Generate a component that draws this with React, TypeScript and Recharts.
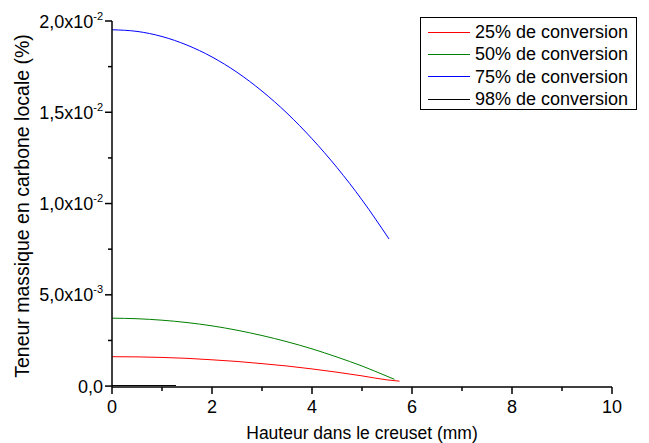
import React from "react";
import { Legend, Line, LineChart, XAxis, YAxis } from "recharts";

// hauteur (mm) / teneur (%) per series
const x25 = [0, 0.5, 1, 1.5, 2, 2.5, 3, 3.5, 4, 4.5, 5, 5.5, 5.75];
const y25 = [0.00161, 0.0016, 0.00157, 0.00152, 0.00144, 0.00135, 0.00123, 0.0011, 0.00094, 0.00076, 0.00056, 0.00034, 0.00027];

const x50 = [0, 0.5, 1, 1.5, 2, 2.5, 3, 3.5, 4, 4.5, 5, 5.5, 5.65];
const y50 = [0.00372, 0.00369, 0.00361, 0.00348, 0.0033, 0.00306, 0.00277, 0.00243, 0.00204, 0.00159, 0.0011, 0.00054, 0.00037];

const x75 = [0, 0.5, 1, 1.5, 2, 2.5, 3, 3.5, 4, 4.5, 5, 5.54];
const y75 = [0.01952, 0.01943, 0.01915, 0.01868, 0.01803, 0.01719, 0.01616, 0.01495, 0.01355, 0.01197, 0.0102, 0.00806];

const x98 = [0, 0.5, 1, 1.28];
const y98 = [0.00003, 0.00003, 0.00003, 0.00003];

const xTicks = [0, 1, 2, 3, 4, 5, 6, 7, 8, 9, 10];
const yTicks = [0, 0.0025, 0.005, 0.0075, 0.01, 0.0125, 0.015, 0.0175, 0.02];
const yTickMantissa = ["0,0", "", "5,0x10", "", "1,0x10", "", "1,5x10", "", "2,0x10"];
const yTickExponent = ["", "", "-3", "", "-2", "", "-2", "", "-2"];

const FONT = "'Liberation Sans', Arial, sans-serif";

const toPoints = (xs: number[], ys: number[]) => xs.map((x, i) => ({ x, y: ys[i] }));

const XTick = (props: any) => {
  const { x, y, payload } = props;
  const major = payload.value % 2 === 0;
  return (
    <g>
      <line x1={x} x2={x} y1={y} y2={y + (major ? 7 : 4)} stroke="#000" strokeWidth={1.5} />
      {major && (
        <text x={x} y={y + 26} textAnchor="middle" fontSize={18} fontFamily={FONT} fill="#000">
          {payload.value}
        </text>
      )}
    </g>
  );
};

const YTick = (props: any) => {
  const { x, y, index } = props;
  const label = yTickMantissa[index];
  const exp = yTickExponent[index];
  return (
    <g>
      <line x1={x} x2={x - (label ? 7 : 4)} y1={y} y2={y} stroke="#000" strokeWidth={1.5} />
      {label && (
        <text x={x - 9} y={y + 6.5} textAnchor="end" fontSize={18} fontFamily={FONT} fill="#000">
          {label}
          {exp && (
            <tspan dy={-8} fontSize={11}>
              {exp}
            </tspan>
          )}
        </text>
      )}
    </g>
  );
};

const LegendBox = (props: any) => (
  <div
    style={{
      boxSizing: "border-box",
      width: 217,
      height: 93,
      border: "1px solid #000",
      background: "#fff",
      paddingTop: 3,
      paddingLeft: 7,
      fontFamily: FONT,
      fontSize: 18,
      color: "#000",
      whiteSpace: "nowrap",
    }}
  >
    {(props.payload || []).map((p: any) => (
      <div key={p.value} style={{ display: "flex", alignItems: "center", height: 22.3 }}>
        <svg width={42} height={3}>
          <line x1={0} x2={42} y1={1.5} y2={1.5} stroke={p.color} strokeWidth={1} />
        </svg>
        <span style={{ marginLeft: 5, lineHeight: "22px" }}>{p.value}</span>
      </div>
    ))}
  </div>
);

export default function App() {
  return (
    <div style={{ position: "absolute", left: 0, top: 0, background: "#fff" }}>
      <LineChart width={649} height={443} margin={{ top: 21, right: 37, bottom: 0, left: 0 }}>
        <XAxis
          dataKey="x"
          type="number"
          domain={[0, 10]}
          ticks={xTicks}
          interval={0}
          height={56}
          tickSize={0}
          tickMargin={0}
          tickLine={false}
          tick={<XTick />}
          axisLine={{ stroke: "#000", strokeWidth: 1.5 }}
          label={{
            content: (p: any) => (
              <text
                x={p.viewBox.x + p.viewBox.width / 2}
                y={p.viewBox.y + 52}
                textAnchor="middle"
                fontSize={17.5}
                fontFamily={FONT}
                fill="#000"
              >
                Hauteur dans le creuset (mm)
              </text>
            ),
          }}
        />
        <YAxis
          type="number"
          domain={[-0.00005, 0.02]}
          ticks={yTicks}
          interval={0}
          width={112}
          tickSize={0}
          tickMargin={0}
          tickLine={false}
          tick={<YTick />}
          axisLine={{ stroke: "#000", strokeWidth: 1.5 }}
          label={{
            content: (p: any) => {
              const cy = p.viewBox.y + p.viewBox.height / 2 + 2;
              return (
                <text
                  x={22}
                  y={cy}
                  dy="0.35em"
                  transform={`rotate(-90, 22, ${cy})`}
                  textAnchor="middle"
                  fontSize={19.5}
                  fontFamily={FONT}
                  fill="#000"
                >
                  Teneur massique en carbone locale (%)
                </text>
              );
            },
          }}
        />
        <Legend
          layout="horizontal"
          verticalAlign="middle"
          align="center"
          content={<LegendBox />}
          wrapperStyle={{ left: 420, top: 17, width: 217, height: 93 }}
        />
        <Line data={toPoints(x25, y25)} dataKey="y" name="25% de conversion" type="monotone" stroke="#ff0000" strokeWidth={1} dot={false} isAnimationActive={false} />
        <Line data={toPoints(x50, y50)} dataKey="y" name="50% de conversion" type="monotone" stroke="#008000" strokeWidth={1} dot={false} isAnimationActive={false} />
        <Line data={toPoints(x75, y75)} dataKey="y" name="75% de conversion" type="monotone" stroke="#0000ff" strokeWidth={1} dot={false} isAnimationActive={false} />
        <Line data={toPoints(x98, y98)} dataKey="y" name="98% de conversion" type="monotone" stroke="#000000" strokeWidth={1} dot={false} isAnimationActive={false} />
      </LineChart>
    </div>
  );
}
